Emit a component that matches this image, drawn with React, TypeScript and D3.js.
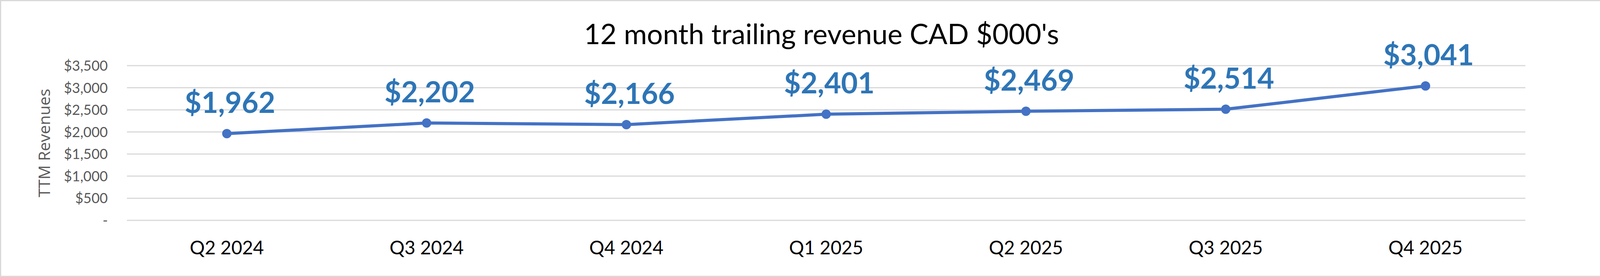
import React from 'react';
import * as d3 from 'd3';

const quarters = ['Q2 2024', 'Q3 2024', 'Q4 2024', 'Q1 2025', 'Q2 2025', 'Q3 2025', 'Q4 2025'];
const ttmRevenue = [1962, 2202, 2166, 2401, 2469, 2514, 3041];
const yTicks = [0, 500, 1000, 1500, 2000, 2500, 3000, 3500];

const W = 4206;
const H = 709;
const plot = { left: 325, right: 3905, top: 168, bottom: 564 };
const FONT = 'Lato, Carlito, Calibri, "Open Sans", sans-serif';

const fmtMoney = (v: number) => (v === 0 ? '-' : '$' + d3.format(',')(v));

export default function App() {
  const x = d3.scaleBand<string>().domain(quarters).range([plot.left, plot.right]).padding(0);
  const y = d3.scaleLinear().domain([0, 3500]).range([plot.bottom, plot.top]);
  const cx = (q: string) => (x(q) ?? 0) + x.bandwidth() / 2;

  const points = quarters.map((q, i) => ({ q, v: ttmRevenue[i] }));
  const line = d3.line<{ q: string; v: number }>()
    .x((d) => cx(d.q))
    .y((d) => y(d.v));

  return (
    <svg width={W} height={H} style={{ position: 'absolute', left: 0, top: 0, background: '#fff' }}>
      <rect x={1.5} y={1.5} width={W - 3} height={H - 3} fill="#fff" stroke="#d9d9d9" strokeWidth={3} />

      <text x={W / 2} y={113} textAnchor="middle" fontFamily={FONT} fontSize={72} fill="#000">
        12 month trailing revenue CAD $000's
      </text>

      {yTicks.map((t) => (
        <g key={t}>
          <line x1={plot.left} x2={plot.right} y1={y(t)} y2={y(t)} stroke="#d9d9d9" strokeWidth={3} />
          <text x={276} y={y(t) + 13} textAnchor="end" fontFamily={FONT} fontSize={36} fill="#595959">
            {fmtMoney(t)}
          </text>
        </g>
      ))}

      <text
        transform={`translate(128, 366) rotate(-90)`}
        textAnchor="middle"
        fontFamily='"Open Sans", "Noto Sans", sans-serif'
        fontSize={41}
        fill="#595959"
      >
        TTM Revenues
      </text>

      {quarters.map((q) => (
        <text key={q} x={cx(q)} y={651} textAnchor="middle" fontFamily={FONT} fontSize={48} fill="#000">
          {q}
        </text>
      ))}

      <path d={line(points) ?? ''} fill="none" stroke="#4472C4" strokeWidth={8} strokeLinejoin="round" />
      {points.map((d) => (
        <circle key={d.q} cx={cx(d.q)} cy={y(d.v)} r={12} fill="#4472C4" />
      ))}

      {points.map((d) => (
        <text
          key={d.q}
          x={cx(d.q) + 8}
          y={y(d.v) - 53}
          textAnchor="middle"
          fontFamily={FONT}
          fontWeight="bold"
          fontSize={74}
          fill="#2E75B6"
        >
          {fmtMoney(d.v)}
        </text>
      ))}
    </svg>
  );
}
